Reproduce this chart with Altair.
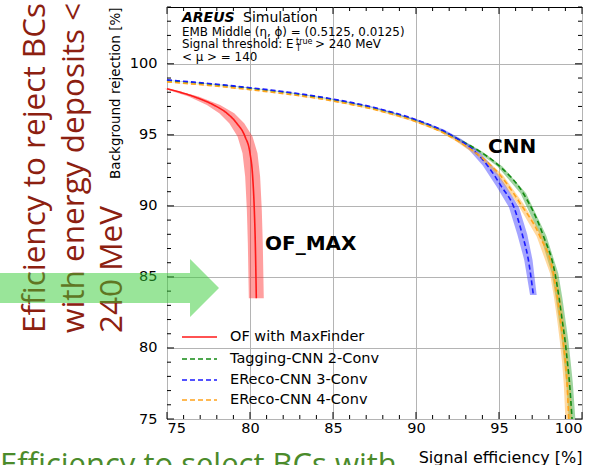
import altair as alt
import pandas as pd

# ---------------- data ----------------
series_names = ["OF with MaxFinder", "Tagging-CNN 2-Conv", "EReco-CNN 3-Conv", "EReco-CNN 4-Conv"]
line_colors = ["#ff1a1a", "#138a13", "#1a1aff", "#ffa31a"]
band_colors = ["#ff2a2a", "#2aa02a", "#3535ff", "#ffaa2a"]
dash_styles = [[1, 0], [5, 3], [5, 3], [5, 3]]

of_x = [75.0, 76.6, 77.8, 78.6, 79.2, 79.7, 80.0, 80.16, 80.26, 80.32, 80.38]
of_y = [98.24, 97.70, 97.11, 96.53, 95.82, 94.88, 93.71, 92.06, 89.72, 87.37, 83.5]
of_err = [0.15, 0.3, 0.4, 0.45, 0.45, 0.45, 0.45, 0.45, 0.45, 0.45, 0.45]

tag_x = [75.0, 77.5, 80.0, 82.5, 85.0, 87.5, 90.0, 91.5, 92.5, 93.86, 95.06, 96.46, 97.67,
         98.37, 98.62, 98.8, 98.98, 99.12, 99.25, 99.4]
tag_y = [98.83, 98.58, 98.28, 97.93, 97.48, 96.88, 96.03, 95.33, 94.72, 93.82, 92.77, 90.89, 87.9,
         85.26, 83.5, 82.0, 80.5, 79.0, 77.5, 75.0]
tag_err = [0.1, 0.1, 0.1, 0.1, 0.1, 0.1, 0.12, 0.12, 0.14, 0.15, 0.15, 0.17, 0.18,
           0.2, 0.2, 0.2, 0.2, 0.2, 0.2, 0.2]

e3_x = [75.0, 77.5, 80.0, 82.5, 85.0, 87.5, 90.0, 91.5, 92.5, 93.45, 94.3, 95.15, 95.9, 96.4, 96.77, 97.07]
e3_y = [98.87, 98.62, 98.32, 97.97, 97.52, 96.92, 96.07, 95.37, 94.72, 93.94, 92.85, 91.36, 89.9, 88.0, 86.2, 83.73]
e3_err = [0.1, 0.1, 0.1, 0.1, 0.12, 0.14, 0.16, 0.18, 0.2, 0.25, 0.28, 0.3, 0.3, 0.3, 0.25, 0.2]

e4_x = [75.0, 77.5, 80.0, 82.5, 85.0, 87.5, 90.0, 91.5, 92.5, 93.86, 95.06, 96.27, 97.47,
        98.27, 98.52, 98.7, 98.86, 99.0, 99.1, 99.2]
e4_y = [98.73, 98.48, 98.18, 97.83, 97.38, 96.78, 95.93, 95.23, 94.58, 93.5, 92.18, 90.19, 87.84,
        85.26, 83.5, 82.0, 80.5, 79.0, 77.5, 75.0]
e4_err = [0.1, 0.1, 0.1, 0.1, 0.1, 0.1, 0.12, 0.12, 0.14, 0.15, 0.17, 0.18, 0.2,
          0.2, 0.2, 0.2, 0.2, 0.2, 0.2, 0.2]

x_tick_labels = [75, 80, 85, 90, 95, 100]
y_tick_labels = [75, 80, 85, 90, 95, 100]
x_ticks = list(range(75, 101))
y_ticks = list(range(75, 105))

# ---------------- layout helpers ----------------
W, H = 415, 412
X0, X1 = 75, 100
Y0, Y1 = 75, 104
PAD_L, PAD_T = 167, 7


def px2x(px):
    return X0 + (px - PAD_L) * (X1 - X0) / W


def px2y(py):
    return Y0 + (PAD_T + H - py) * (Y1 - Y0) / H


xs = alt.Scale(domain=[X0, X1], nice=False, zero=False)
ys = alt.Scale(domain=[Y0, Y1], nice=False, zero=False)
AX_FONT = "DejaVu Sans"

rows = []
for name, xv, yv, ev in [
    (series_names[0], of_x, of_y, of_err),
    (series_names[1], tag_x, tag_y, tag_err),
    (series_names[2], e3_x, e3_y, e3_err),
    (series_names[3], e4_x, e4_y, e4_err),
]:
    for i in range(len(xv)):
        rows.append({"series": name, "x": xv[i], "y": yv[i], "lo": xv[i] - ev[i], "hi": xv[i] + ev[i], "idx": i})
curves = pd.DataFrame(rows)

stroke_scale = alt.Scale(domain=series_names, range=line_colors)
fill_scale = alt.Scale(domain=series_names, range=band_colors)
dash_scale = alt.Scale(domain=series_names, range=dash_styles)

x_axis = alt.Axis(
    values=x_tick_labels, format="d", grid=True, gridColor="#b4b4b4", gridWidth=1,
    ticks=False, tickSize=0, domain=False, labelFont=AX_FONT, labelFontSize=14.5,
    labelColor="black", labelPadding=2, title="Signal efficiency [%]",
    titleFont=AX_FONT, titleFontSize=16, titleFontWeight="normal", titleColor="black",
    titleAnchor="end", titleAlign="right", titleBaseline="alphabetic", titleX=W, titleY=43,
)
y_axis = alt.Axis(
    values=y_tick_labels, format="d", grid=True, gridColor="#b4b4b4", gridWidth=1,
    ticks=False, tickSize=0, domain=False, labelFont=AX_FONT, labelFontSize=14.5,
    labelColor="black", labelPadding=10, title="Background rejection [%]",
    titleFont=AX_FONT, titleFontSize=13.5, titleFontWeight="normal", titleColor="black",
    titleAngle=270, titleAlign="right", titleBaseline="alphabetic", titleX=-48, titleY=0,
)


def X(field=None, datum=None):
    if datum is not None:
        return alt.XDatum(datum, type="quantitative", scale=xs, axis=x_axis)
    return alt.X(field, type="quantitative", scale=xs, axis=x_axis)


def Y(field=None, datum=None):
    if datum is not None:
        return alt.YDatum(datum, type="quantitative", scale=ys, axis=y_axis)
    return alt.Y(field, type="quantitative", scale=ys, axis=y_axis)


bands = alt.Chart(curves).mark_area(orient="horizontal", fillOpacity=0.45).encode(
    y=Y("y"),
    x=X("lo"),
    x2="hi:Q",
    fill=alt.Fill("series:N", scale=fill_scale, legend=None),
)

lines = alt.Chart(curves).mark_line(strokeWidth=1.6, interpolate="monotone").encode(
    x=X("x"),
    y=Y("y"),
    stroke=alt.Stroke("series:N", scale=stroke_scale, legend=None),
    strokeDash=alt.StrokeDash("series:N", scale=dash_scale, legend=None),
    order=alt.Order("idx:Q"),
)

# manual legend
legend_df = pd.DataFrame({"series": series_names, "ly": [px2y(p) for p in [337, 359, 380, 400]]})
legend_lines = alt.Chart(legend_df).mark_rule(strokeWidth=1.6).encode(
    x=X(datum=px2x(182)),
    x2=alt.X2Datum(px2x(217)),
    y=Y("ly"),
    stroke=alt.Stroke("series:N", scale=stroke_scale, legend=None),
    strokeDash=alt.StrokeDash("series:N", scale=dash_scale, legend=None),
)
legend_text = alt.Chart(legend_df).mark_text(
    align="left", baseline="middle", font=AX_FONT, fontSize=14.5, color="black"
).encode(
    x=X(datum=px2x(230)),
    y=Y("ly"),
    text="series:N",
)

one = pd.DataFrame({"a": [0]})


def label(txt, px, py, size, weight="normal", style="normal", font=AX_FONT, color="black", align="left"):
    return alt.Chart(one).mark_text(
        text=txt, align=align, baseline="alphabetic", font=font, fontSize=size,
        fontWeight=weight, fontStyle=style, color=color,
    ).encode(
        x=X(datum=px2x(px)),
        y=Y(datum=px2y(py)),
    )


annotations = [
    label("AREUS", 182, 22, 14, weight="bold", style="italic"),
    label("Simulation", 243, 22, 14),
    label("EMB Middle (\u03b7, \u03d5) = (0.5125, 0.0125)", 182, 35.5, 11.9),
    label("Signal threshold: E", 182, 47.5, 11.9),
    label("true", 296, 43.5, 8),
    label("T", 296, 50.5, 8),
    label("> 240 MeV", 315, 47.5, 11.9),
    label("< \u03bc > = 140", 182, 60.5, 11.9),
    label("CNN", 488, 153, 20, weight="bold"),
    label("OF_MAX", 265, 250, 20, weight="bold"),
]

# inward ticks on all four sides
tdx = pd.DataFrame({"v": x_ticks, "major": [v % 5 == 0 for v in x_ticks]})
tdy = pd.DataFrame({"v": y_ticks, "major": [v % 5 == 0 for v in y_ticks]})
tick_layers = []
for is_major, L in [(True, 7), (False, 4)]:
    flt = "datum.major" if is_major else "!datum.major"
    bx = alt.Chart(tdx).transform_filter(flt).mark_rule(color="black", strokeWidth=1)
    by = alt.Chart(tdy).transform_filter(flt).mark_rule(color="black", strokeWidth=1)
    tick_layers += [
        bx.encode(x=X("v"), y=alt.value(H), y2=alt.value(H - L)),
        bx.encode(x=X("v"), y=alt.value(0), y2=alt.value(L)),
        by.encode(y=Y("v"), x=alt.value(0), x2=alt.value(L)),
        by.encode(y=Y("v"), x=alt.value(W), x2=alt.value(W - L)),
    ]

# slide overlays
side_text = alt.Chart(one).mark_text(
    text=["Efficiency to reject BCs", "with energy deposits <", "240 MeV"],
    angle=270, align="left", baseline="alphabetic", lineHeight=38.5,
    font="Open Sans", fontSize=31.5, color="#8c2010",
).encode(x=alt.value(45 - PAD_L), y=alt.value(333 - PAD_T))

bottom_text = alt.Chart(one).mark_text(
    text="Efficiency to select BCs with", align="left", baseline="alphabetic",
    font="Open Sans", fontSize=31, color="#4b8b2b",
).encode(x=alt.value(0 - PAD_L), y=alt.value(475 - PAD_T))

arrow_df = pd.DataFrame({
    "ax": [px2x(0), px2x(190), px2x(190.05), px2x(219)],
    "atop": [px2y(273), px2y(273), px2y(259), px2y(288)],
    "abot": [px2y(303), px2y(303), px2y(317), px2y(288)],
})
arrow = alt.Chart(arrow_df).mark_area(color="#33cc33", opacity=0.5, clip=False).encode(
    x=X("ax"),
    y=Y("atop"),
    y2="abot:Q",
)

chart = alt.layer(
    bands, lines, legend_lines, legend_text, *annotations, *tick_layers,
    side_text, bottom_text, arrow,
).properties(
    width=W, height=H,
    autosize=alt.AutoSizeParams(type="none"),
    padding={"left": PAD_L, "top": PAD_T, "right": 597 - PAD_L - W, "bottom": 465 - PAD_T - H},
    background="white",
).configure_view(stroke="black", strokeWidth=1)

chart.save("out.html", embed_options={"renderer": "svg", "actions": False})
